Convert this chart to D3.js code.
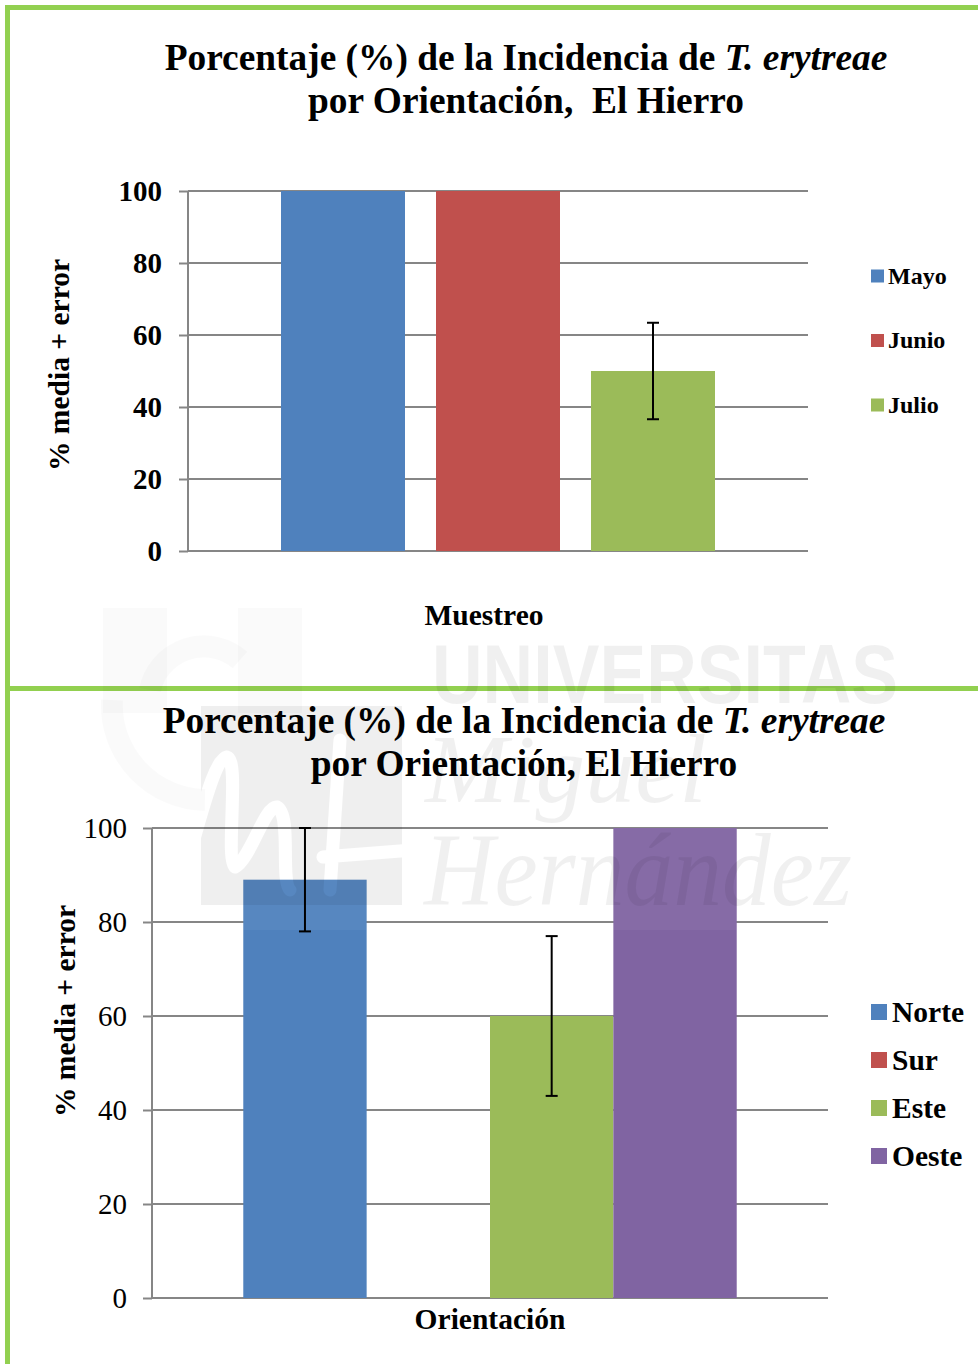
<!DOCTYPE html>
<html>
<head>
<meta charset="utf-8">
<script src="https://cdn.jsdelivr.net/npm/d3@7"></script>
<style>
    html, body { margin: 0; padding: 0; background: #fff; }
    svg { display: block; }
    text { font-family: "Liberation Serif", serif; fill: #000; }
</style>
</head>
<body>
<div id="viz"></div>
<script>
var w = 978;
var h = 1364;

var ticks = [0, 20, 40, 60, 80, 100];

var meses = ["Mayo", "Junio", "Julio"];
var mesesValues = [100, 100, 50];
var mesesError = [null, null, 13.4];
var mesesColors = ["#4f81bd", "#c0504d", "#9bbb59"];

var orientaciones = ["Norte", "Sur", "Este", "Oeste"];
var orientacionesValues = [89, 0, 60, 100];
var orientacionesError = [11, null, 17, null];
var orientacionesColors = ["#4f81bd", "#c0504d", "#9bbb59", "#8064a2"];

var svg = d3.select("#viz")
    .append("svg")
    .attr("width", w)
    .attr("height", h);

var defs = svg.append("defs");
defs.append("clipPath").attr("id", "bandClip")
    .append("rect").attr("x", 0).attr("y", 828).attr("width", w).attr("height", 102);

//// FRAME ////
var green = "#92d050";
svg.append("rect").attr("x", 5).attr("y", 5).attr("width", 973).attr("height", 5).attr("fill", green);
svg.append("rect").attr("x", 5).attr("y", 5).attr("width", 5).attr("height", 1359).attr("fill", green);
svg.append("rect").attr("x", 10).attr("y", 686).attr("width", 968).attr("height", 5).attr("fill", green);

var drawChart = function(o) {
    var g = svg.append("g");

    var xScale = d3.scaleBand()
        .domain(o.names)
        .range([o.left, o.right])
        .paddingInner(o.inner)
        .paddingOuter(o.outer);

    var yScale = d3.scaleLinear()
        .domain([0, 100])
        .range([o.bottom, o.top]);

    //gridlines and y axis
    var yAxis = d3.axisLeft(yScale)
        .tickValues(ticks)
        .tickSize(9)
        .tickPadding(o.tickPadding);

    var yG = g.append("g")
        .attr("transform", "translate(" + o.left + ",0)")
        .call(yAxis);
    yG.select(".domain").attr("stroke", "#868686").attr("stroke-width", 2).attr("d", "M0," + o.top + "V" + o.bottom);
    yG.selectAll(".tick line").attr("stroke", "#868686").attr("stroke-width", 2);
    yG.selectAll(".tick text")
        .style("font-family", "'Liberation Serif', serif")
        .style("font-size", o.tickSize + "px")
        .style("font-weight", o.tickWeight)
        .attr("fill", "#000");

    g.append("g").selectAll("line")
        .data(ticks)
        .enter()
        .append("line")
        .attr("x1", o.left)
        .attr("x2", o.right)
        .attr("y1", function(d) { return yScale(d); })
        .attr("y2", function(d) { return yScale(d); })
        .attr("stroke", "#868686")
        .attr("stroke-width", 2);

    //bars
    g.append("g").selectAll("rect")
        .data(o.values)
        .enter()
        .append("rect")
        .attr("x", function(d, i) { return xScale(o.names[i]); })
        .attr("y", function(d) { return yScale(d); })
        .attr("width", xScale.bandwidth())
        .attr("height", function(d) { return o.bottom - yScale(d); })
        .attr("fill", function(d, i) { return o.colors[i]; });

    //the watermark tints the bars a little down to y=930
    if (o.tinted) {
        g.append("g").attr("clip-path", "url(#bandClip)").selectAll("rect")
            .data(o.values)
            .enter()
            .append("rect")
            .attr("x", function(d, i) { return xScale(o.names[i]); })
            .attr("y", function(d) { return yScale(d); })
            .attr("width", xScale.bandwidth())
            .attr("height", function(d) { return o.bottom - yScale(d); })
            .attr("fill", "#fff")
            .attr("opacity", 0.05);
    }

    //error bars
    o.values.forEach(function(d, i) {
        var e = o.errors[i];
        if (e === null) return;
        var cx = xScale(o.names[i]) + xScale.bandwidth() / 2;
        var y1 = yScale(Math.min(d + e, 100));
        var y2 = yScale(d - e);
        var err = g.append("g").attr("stroke", "#000").attr("stroke-width", 2);
        err.append("line").attr("x1", cx).attr("x2", cx).attr("y1", y1).attr("y2", y2);
        err.append("line").attr("x1", cx - 6).attr("x2", cx + 6).attr("y1", y1).attr("y2", y1);
        err.append("line").attr("x1", cx - 6).attr("x2", cx + 6).attr("y1", y2).attr("y2", y2);
    });

    //title
    var t1 = g.append("text")
        .attr("x", o.titleX)
        .attr("y", o.titleY)
        .attr("text-anchor", "middle")
        .attr("font-size", o.titleSize)
        .attr("font-weight", "bold");
    t1.append("tspan").text("Porcentaje (%) de la Incidencia de ");
    t1.append("tspan").attr("font-style", "italic").text("T. erytreae");

    g.append("text")
        .attr("x", o.titleX)
        .attr("y", o.titleY + 43)
        .attr("text-anchor", "middle")
        .attr("font-size", o.titleSize)
        .attr("font-weight", "bold")
        .attr("xml:space", "preserve")
        .text(o.title2);

    //axis labels
    g.append("text")
        .attr("x", o.xLabelX)
        .attr("y", o.xLabelY)
        .attr("text-anchor", "middle")
        .attr("font-size", 29.5)
        .attr("font-weight", "bold")
        .text(o.xLabel);

    g.append("text")
        .attr("transform", "translate(" + o.yLabelX + "," + o.yLabelY + ") rotate(-90)")
        .attr("text-anchor", "middle")
        .attr("font-size", 29.5)
        .attr("font-weight", "bold")
        .text("% media + error");

    //legend
    var leg = g.append("g").selectAll("g")
        .data(o.names)
        .enter()
        .append("g")
        .attr("transform", function(d, i) { return "translate(871," + (o.legendY + i * o.legendStep) + ")"; });
    leg.append("rect")
        .attr("y", -o.legendBox / 2)
        .attr("width", o.legendBox)
        .attr("height", o.legendBox)
        .attr("fill", function(d, i) { return o.colors[i]; });
    leg.append("text")
        .attr("x", o.legendBox + o.legendGap)
        .attr("y", o.legendSize * 0.33)
        .attr("font-size", o.legendSize)
        .attr("font-weight", "bold")
        .text(function(d) { return d; });
};

drawChart({
    names: meses, values: mesesValues, errors: mesesError, colors: mesesColors,
    left: 188, right: 808, top: 191, bottom: 551, inner: 0.2, outer: 0.6,
    tickSize: 29, tickWeight: "bold", tickPadding: 17,
    titleX: 526, titleY: 70, titleSize: 37.4, title2: "por Orientación,  El Hierro",
    xLabel: "Muestreo", xLabelX: 484, xLabelY: 625,
    yLabelX: 69, yLabelY: 365,
    legendY: 276, legendStep: 64.5, legendBox: 13, legendSize: 24, legendGap: 4
});

drawChart({
    names: orientaciones, values: orientacionesValues, errors: orientacionesError, colors: orientacionesColors,
    left: 152, right: 828, top: 828, bottom: 1298, inner: 0, outer: 0.74,
    tickSize: 29, tickWeight: "normal", tickPadding: 16,
    titleX: 524, titleY: 733, titleSize: 37.4, title2: "por Orientación, El Hierro",
    xLabel: "Orientación", xLabelX: 490, xLabelY: 1329,
    yLabelX: 75, yLabelY: 1011,
    legendY: 1012, legendStep: 48, legendBox: 16, legendSize: 29.5, legendGap: 5,
    tinted: true
});

//// WATERMARK ////
var mask = defs.append("mask").attr("id", "logoMask").attr("maskUnits", "userSpaceOnUse")
    .attr("x", 0).attr("y", 0).attr("width", w).attr("height", h);
mask.append("rect").attr("width", w).attr("height", h).attr("fill", "#fff");
mask.append("path").attr("fill", "none").attr("stroke", "#000").attr("stroke-width", 13)
    .attr("stroke-linecap", "round").attr("stroke-linejoin", "round")
    .attr("d", "M177,890C195,850 210,760 227,757C240,760 225,860 235,867C250,860 265,805 277,807C292,815 280,880 290,890");
mask.append("path").attr("fill", "none").attr("stroke", "#000").attr("stroke-width", 13)
    .attr("stroke-linecap", "round")
    .attr("d", "M340,740L330,890 M323,857L413,850");

var mark = svg.append("g").attr("fill", "#000").style("pointer-events", "none");
var words = mark.append("g").attr("opacity", 0.055);
words.append("text").attr("x", 432).attr("y", 703).attr("font-size", 84).attr("font-weight", "bold")
    .attr("textLength", 466).attr("lengthAdjust", "spacingAndGlyphs")
    .style("font-family", "'Liberation Sans', sans-serif").text("UNIVERSITAS");
words.append("text").attr("x", 425).attr("y", 802).attr("font-size", 98).attr("font-style", "italic")
    .attr("textLength", 282).attr("lengthAdjust", "spacingAndGlyphs").text("Miguel");
words.append("text").attr("x", 424).attr("y", 905).attr("font-size", 104).attr("font-style", "italic")
    .attr("textLength", 428).attr("lengthAdjust", "spacingAndGlyphs").text("Hernández");

var logo = mark.append("g");
logo.append("rect").attr("x", 103).attr("y", 608).attr("width", 64).attr("height", 105).attr("opacity", 0.02);
logo.append("rect").attr("x", 238).attr("y", 608).attr("width", 64).attr("height", 105).attr("opacity", 0.02);
logo.append("path").attr("fill", "none").attr("stroke", "#000").attr("stroke-width", 22).attr("opacity", 0.02)
    .attr("d", "M112,700A95,95 0 0 0 205,800 M150,690A55,55 0 0 1 240,660");
logo.append("rect").attr("x", 201).attr("y", 706).attr("width", 201).attr("height", 199)
    .attr("opacity", 0.06).attr("mask", "url(#logoMask)");
</script>
</body>
</html>
